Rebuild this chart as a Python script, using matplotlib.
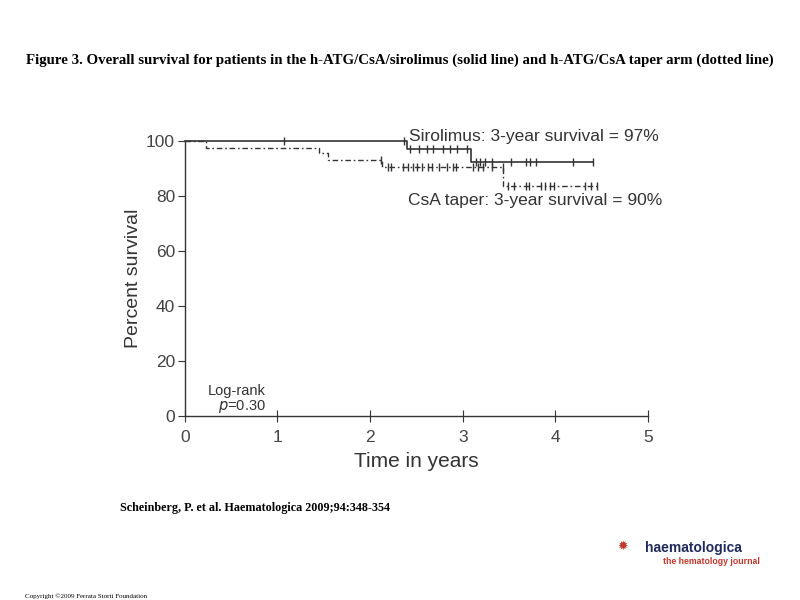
import numpy as np
import matplotlib.pyplot as plt

# Kaplan-Meier curves (years, percent survival)
siro_time = [0, 2.40, 3.09, 4.41]
siro_surv = [100, 97.1, 92.2, 92.2]
siro_cens = [1.07, 2.37, 2.43, 2.53, 2.61, 2.68, 2.79, 2.86, 2.94, 3.05,
             3.14, 3.19, 3.24, 3.32, 3.52, 3.68, 3.73, 3.79, 4.19, 4.41]

csa_time = [0, 0.23, 1.45, 1.55, 2.13, 3.44, 4.45]
csa_surv = [100, 97.6, 95.6, 93.1, 90.5, 83.6, 83.6]
csa_cens = [2.12, 2.19, 2.23, 2.36, 2.41, 2.46, 2.51, 2.56, 2.62, 2.67, 2.74,
            2.83, 2.89, 2.93, 3.11, 3.17, 3.22, 3.32, 3.43,
            3.49, 3.55, 3.68, 3.72, 3.84, 3.89, 3.94, 3.98, 4.32, 4.38, 4.45]

xticks = [0, 1, 2, 3, 4, 5]
yticks = [0, 20, 40, 60, 80, 100]

sans = ['Liberation Sans', 'DejaVu Sans']
serif = ['Liberation Serif', 'DejaVu Serif']
lc = '#333333'


def surv_at(times, surv, t):
    idx = np.searchsorted(times, t, side='right') - 1
    return np.array(surv)[idx]


fig = plt.figure(figsize=(8, 6), dpi=100)
ax = fig.add_axes([0.231, 0.307, 0.579, 0.458])

# csa start hidden under solid at 100
ax.step(csa_time, csa_surv, where='post', color=lc, lw=1.0,
        linestyle=(0, (4, 2, 1.2, 2)), clip_on=False)
ax.plot(csa_cens, surv_at(csa_time, csa_surv, csa_cens), '|', color=lc,
        ms=6, mew=1.0, clip_on=False)

ax.step(siro_time, siro_surv, where='post', color=lc, lw=1.2, clip_on=False)
ax.plot(siro_cens, surv_at(siro_time, siro_surv, siro_cens), '|', color=lc,
        ms=6, mew=1.0, clip_on=False)

ax.set_xlim(0, 5)
ax.set_ylim(0, 100)
ax.set_xticks(xticks)
ax.set_yticks(yticks)
for s in ['top', 'right']:
    ax.spines[s].set_visible(False)
for s in ['left', 'bottom']:
    ax.spines[s].set_color(lc)
    ax.spines[s].set_linewidth(1.0)
ax.tick_params(axis='x', direction='inout', length=8, color=lc,
               labelsize=12.5, labelcolor='#444444', pad=6)
ax.tick_params(axis='y', direction='out', length=5, color=lc,
               labelsize=12.5, labelcolor='#444444', pad=2)
for lab in ax.get_xticklabels() + ax.get_yticklabels():
    lab.set_family(sans)

ax.set_xlabel('Time in years', family=sans, fontsize=15, color='#333333',
              labelpad=5)
ax.set_ylabel('Percent survival', family=sans, fontsize=14, color='#333333',
              labelpad=3)

ax.text(2.42, 101.5, 'Sirolimus: 3-year survival = 97%', family=sans,
        fontsize=12.5, color='#333333', va='center', ha='left')
ax.text(2.41, 78.5, 'CsA taper: 3-year survival = 90%', family=sans,
        fontsize=12.5, color='#333333', va='center', ha='left')
ax.text(0.25, 9.0, 'Log-rank', family=sans, fontsize=10.5, color='#333333',
        va='center', ha='left')
ax.text(0.36, 3.4, '$\\it{p}$=0.30', family=sans, fontsize=10.5,
        color='#333333', va='center', ha='left')

fig.text(0.5, 0.9, 'Figure 3. Overall survival for patients in the h-ATG/CsA/sirolimus '
         '(solid line) and h-ATG/CsA taper arm (dotted line)',
         family=serif, fontsize=10.7, fontweight='bold', ha='center', va='center')
fig.text(0.15, 0.153, 'Scheinberg, P. et al. Haematologica 2009;94:348-354',
         family=serif, fontsize=8.7, fontweight='bold', ha='left', va='center')
fig.text(0.031, 0.007, 'Copyright \u00a92009 Ferrata Storti Foundation',
         family=serif, fontsize=5, ha='left', va='center')

fig.text(0.806, 0.087, 'haematologica', family=sans, fontsize=10,
         fontweight='bold', color='#1f2a5a', ha='left', va='center')
fig.text(0.829, 0.064, 'the hematology journal', family=sans,
         fontsize=6.3, fontweight='bold', color='#c0392b', ha='left', va='center')
fig.text(0.778, 0.09, '\u2739', family=['DejaVu Sans'], fontsize=9,
         color='#c0392b', ha='center', va='center')

fig.savefig('out.png', dpi=100)
